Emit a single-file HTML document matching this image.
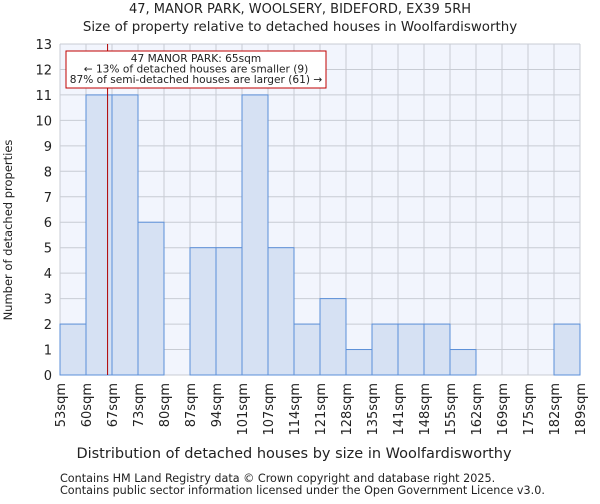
<!DOCTYPE html>
<html><head><meta charset="utf-8"><style>
body{margin:0;background:#fff;font-family:"DejaVu Sans","Liberation Sans",sans-serif}
svg text{font-family:"DejaVu Sans","Liberation Sans",sans-serif;fill:#222}
</style></head><body>
<svg id="chart" width="600" height="500" viewBox="0 0 600 500" xmlns="http://www.w3.org/2000/svg">
<text x="300" y="13" font-size="13" text-anchor="middle">47, MANOR PARK, WOOLSERY, BIDEFORD, EX39 5RH</text>
<text x="300" y="31" font-size="13.4" text-anchor="middle">Size of property relative to detached houses in Woolfardisworthy</text>
<rect x="60" y="44" width="520" height="331" fill="#f2f5fd"/>
<g id="grid"></g><g id="bars"></g><g id="axes"></g>
<text x="294" y="458" font-size="14.5" text-anchor="middle">Distribution of detached houses by size in Woolfardisworthy</text>
<text transform="translate(12,230) rotate(-90)" font-size="11.5" text-anchor="middle">Number of detached properties</text>
<text x="60" y="482" font-size="11.2">Contains HM Land Registry data © Crown copyright and database right 2025.</text>
<text x="60" y="494" font-size="11.2">Contains public sector information licensed under the Open Government Licence v3.0.</text>
</svg>
<script>
const categories=["53sqm","60sqm","67sqm","73sqm","80sqm","87sqm","94sqm","101sqm","107sqm","114sqm","121sqm","128sqm","135sqm","141sqm","148sqm","155sqm","162sqm","169sqm","175sqm","182sqm","189sqm"];
const counts=[2,11,11,6,0,5,5,11,5,2,3,1,2,2,2,1,0,0,0,2];
const yTicks=[0,1,2,3,4,5,6,7,8,9,10,11,12,13];
const markerBin=1.83;
const annotation=["47 MANOR PARK: 65sqm","← 13% of detached houses are smaller (9)","87% of semi-detached houses are larger (61) →"];
const NS="http://www.w3.org/2000/svg";
const L=60,R=580,T=44,B=375,yMax=13;
const x=i=>L+(R-L)*i/counts.length;
const y=v=>B-(B-T)*v/yMax;
function mk(tag,attrs,parent,txt){const e=document.createElementNS(NS,tag);for(const k in attrs)e.setAttribute(k,attrs[k]);if(txt!==undefined)e.textContent=txt;parent.appendChild(e);return e;}
const grid=document.getElementById('grid'),bars=document.getElementById('bars'),axes=document.getElementById('axes');
yTicks.forEach(v=>{const l=mk('line',{x1:L,x2:R,y1:y(v),y2:y(v),stroke:'#c8ccd4','stroke-width':1},grid);


const t=mk('text',{x:L-8,y:y(v)+5,'font-size':13,'text-anchor':'end'},axes,String(v));

});
categories.forEach((c,i)=>{const l=mk('line',{x1:x(i),x2:x(i),y1:T,y2:B,stroke:'#c8ccd4','stroke-width':1},grid);


const t=mk('text',{transform:`translate(${x(i)+5},${B+8}) rotate(-90)`,'font-size':13,'text-anchor':'end'},axes,c);

});
counts.forEach((v,i)=>{if(v<=0)return;const r=mk('rect',{x:x(i),y:y(v),width:x(i+1)-x(i),height:B-y(v),fill:'#d6e1f3',stroke:'#5b8fd8','stroke-width':1},bars);

});
const ml=mk('line',{x1:x(markerBin),x2:x(markerBin),y1:T,y2:B,stroke:'#b00000','stroke-width':1},axes);


const box=mk('rect',{x:66,y:51,width:260,height:37,fill:'#fff',stroke:'#c00000','stroke-width':1},axes);


annotation.forEach((s,i)=>{const t=mk('text',{x:196,y:62+i*10.5,'font-size':10.6,'text-anchor':'middle'},axes,s);

});
</script>
</body></html>
